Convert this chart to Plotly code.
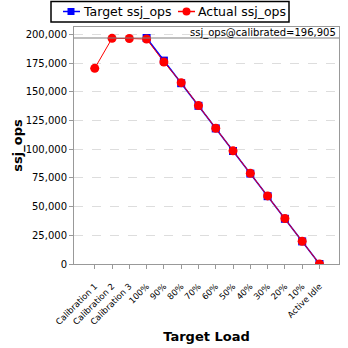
import plotly.graph_objects as go

categories = ["Calibration 1", "Calibration 2", "Calibration 3", "100%", "90%", "80%",
              "70%", "60%", "50%", "40%", "30%", "20%", "10%", "Active Idle"]
target_ops = [None, None, None, 196905, 177215, 157524, 137834, 118143, 98453,
              78762, 59072, 39381, 19691, 0]
actual_ops = [170500, 196600, 196500, 196000, 176000, 158000, 138000, 118300, 98600,
              79000, 59300, 39600, 19800, 0]
calibrated = 196905
y_ticks = [0, 25000, 50000, 75000, 100000, 125000, 150000, 175000, 200000]

font_family = "DejaVu Sans"
W, H = 348, 348
M = dict(l=74, r=9, t=27, b=84)
PW, PH = W - M["l"] - M["r"], H - M["t"] - M["b"]
x_idx = list(range(len(categories)))
series = [("Target ssj_ops", target_ops, "#0000ff", "square", 1.5, 8),
          ("Actual ssj_ops", actual_ops, "#ff0000", "circle", 1, 9)]


def px_x(v):
    """pixel column -> paper x"""
    return (v - M["l"]) / PW


def px_y(v):
    """pixel row -> paper y"""
    return (H - M["b"] - v) / PH


fig = go.Figure()
for name, vals, color, symbol, lw, ms in series:
    fig.add_trace(go.Scatter(
        x=x_idx, y=vals, name=name, mode="lines+markers", showlegend=False,
        line=dict(color=color, width=lw),
        marker=dict(symbol=symbol, size=ms, color=color),
    ))

# calibrated throughput reference line with its label
fig.add_shape(type="line", xref="paper", x0=0, x1=1, yref="y",
              y0=calibrated, y1=calibrated, line=dict(color="#808080", width=1.2))
fig.add_annotation(xref="paper", x=0.995, yref="y", y=calibrated, yanchor="bottom",
                   xanchor="right", showarrow=False, yshift=-3,
                   text=f"ssj_ops@calibrated={calibrated:,}",
                   font=dict(family=font_family, size=10, color="black"))

# legend box drawn above the plot area
fig.add_shape(type="rect", xref="paper", yref="paper",
              x0=px_x(51), x1=px_x(289), y0=px_y(22), y1=px_y(1.5),
              line=dict(color="black", width=1.5), fillcolor="white")
legend_items = [(63, 71, series[0]), (178, 186.5, series[1])]
yc = 11.5
for x_start, x_mark, (name, _, color, symbol, _, _) in legend_items:
    fig.add_shape(type="line", xref="paper", yref="paper",
                  x0=px_x(x_start), x1=px_x(x_start + 17), y0=px_y(yc), y1=px_y(yc),
                  line=dict(color=color, width=1.5))
    r = 3.5 if symbol == "square" else 4
    fig.add_shape(type="rect" if symbol == "square" else "circle",
                  xref="paper", yref="paper",
                  x0=px_x(x_mark - r), x1=px_x(x_mark + r),
                  y0=px_y(yc + r), y1=px_y(yc - r),
                  line=dict(color=color, width=0), fillcolor=color)
    fig.add_annotation(xref="paper", yref="paper", x=px_x(x_start + 18), y=px_y(yc),
                       xanchor="left", yanchor="middle", showarrow=False, text=name,
                       font=dict(family=font_family, size=12.5, color="black"))

fig.update_layout(
    width=W, height=H,
    margin=dict(**M, autoexpand=False),
    paper_bgcolor="white", plot_bgcolor="white",
    font=dict(family=font_family, size=10, color="black"),
    showlegend=False,
    xaxis=dict(
        range=[-1.2, 14.13], tickmode="array", tickvals=x_idx, ticktext=categories,
        tickangle=-45, showgrid=False, zeroline=False, automargin=False,
        tickfont=dict(size=8.5), ticklabelstandoff=9,
        showline=True, linecolor="#999999", linewidth=1, mirror=True,
        ticks="outside", ticklen=4, tickcolor="#999999",
        title=dict(text="<b>Target Load</b>", font=dict(family=font_family, size=13), standoff=6),
    ),
    yaxis=dict(
        range=[0, 206500], tickmode="array", tickvals=y_ticks,
        ticktext=[f"{v:,}" for v in y_ticks], automargin=False,
        showgrid=True, gridcolor="#dddddd", griddash="dash", gridwidth=1,
        zeroline=False, showline=True, linecolor="#999999", linewidth=1, mirror=True,
        ticks="outside", ticklen=4, tickcolor="#999999",
        title=dict(text="<b>ssj_ops</b>", font=dict(family=font_family, size=13), standoff=0),
    ),
)

fig.write_html("out.html")
